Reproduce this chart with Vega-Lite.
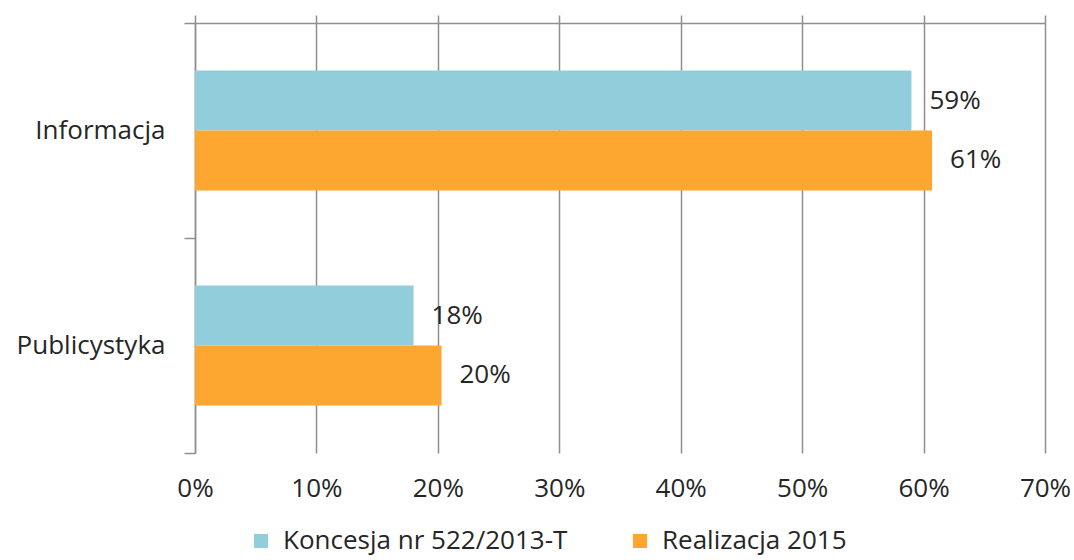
{
  "$schema": "https://vega.github.io/schema/vega-lite/v6.json",
  "width": 850,
  "height": 430,
  "autosize": {"type": "none"},
  "padding": {"left": 195, "top": 23, "right": 29, "bottom": 107},
  "background": "white",
  "config": {"view": {"stroke": null}},
  "data": {
    "values": [
      {"category": "Informacja", "series": "Koncesja nr 522/2013-T", "value": 0.59},
      {"category": "Informacja", "series": "Realizacja 2015", "value": 0.607},
      {"category": "Publicystyka", "series": "Koncesja nr 522/2013-T", "value": 0.18},
      {"category": "Publicystyka", "series": "Realizacja 2015", "value": 0.203}
    ]
  },
  "encoding": {
    "y": {
      "field": "category",
      "type": "nominal",
      "sort": null,
      "scale": {"paddingInner": 0, "paddingOuter": 0},
      "axis": {
        "title": null,
        "domain": true,
        "domainColor": "#8f8f8f",
        "domainWidth": 1.5,
        "ticks": true,
        "tickBand": "extent",
        "tickSize": 11,
        "tickColor": "#8f8f8f",
        "tickWidth": 1.5,
        "labelFont": "Open Sans",
        "labelFontSize": 26,
        "labelColor": "#262626",
        "labelPadding": 19,
        "labelLimit": 0
      }
    },
    "yOffset": {
      "field": "series",
      "type": "nominal",
      "sort": null,
      "scale": {"paddingInner": 0, "paddingOuter": 0.792}
    }
  },
  "layer": [
    {
      "mark": {"type": "bar"},
      "encoding": {
        "x": {
          "field": "value",
          "type": "quantitative",
          "scale": {"domain": [0, 0.7], "nice": false},
          "axis": {
            "orient": "bottom",
            "title": null,
            "format": ".0%",
            "values": [0, 0.1, 0.2, 0.3, 0.4, 0.5, 0.6, 0.7],
            "grid": true,
            "gridColor": "#8f8f8f",
            "gridWidth": 1.5,
            "domain": false,
            "ticks": false,
            "labelFlush": false,
            "labelFont": "Open Sans",
            "labelFontSize": 26,
            "labelColor": "#262626",
            "labelPadding": 22
          }
        },
        "color": {
          "field": "series",
          "type": "nominal",
          "sort": null,
          "scale": {
            "domain": ["Koncesja nr 522/2013-T", "Realizacja 2015"],
            "range": ["#92CDDC", "#FDA630"]
          },
          "legend": {
            "orient": "none",
            "legendX": 53,
            "legendY": 505,
            "direction": "horizontal",
            "title": null,
            "symbolType": "square",
            "symbolSize": 200,
            "symbolStrokeWidth": 0,
            "labelFont": "Open Sans",
            "labelFontSize": 26,
            "labelColor": "#262626",
            "labelOffset": 9,
            "labelLimit": 0,
            "columnPadding": 59
          }
        }
      }
    },
    {
      "mark": {
        "type": "text",
        "align": "left",
        "baseline": "middle",
        "dx": 18,
        "font": "Open Sans",
        "fontSize": 26,
        "color": "#262626"
      },
      "encoding": {
        "x": {
          "field": "value",
          "type": "quantitative",
          "scale": {"domain": [0, 0.7], "nice": false},
          "axis": {
            "orient": "top",
            "title": null,
            "labels": false,
            "grid": false,
            "values": [0, 0.1, 0.2, 0.3, 0.4, 0.5, 0.6, 0.7],
            "domain": true,
            "domainColor": "#8f8f8f",
            "domainWidth": 1.5,
            "ticks": true,
            "tickSize": 8,
            "tickColor": "#8f8f8f",
            "tickWidth": 1.5
          }
        },
        "text": {"field": "value", "type": "quantitative", "format": ".0%"}
      }
    }
  ],
  "resolve": {"axis": {"x": "independent"}}
}
